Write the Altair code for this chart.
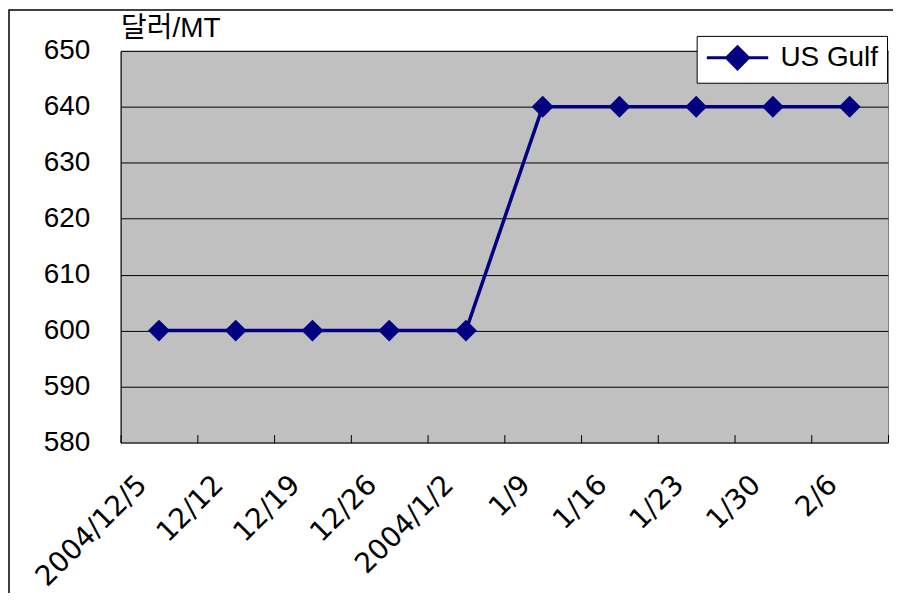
import altair as alt
import pandas as pd

dates = ["2004/12/5", "12/12", "12/19", "12/26", "2004/1/2",
         "1/9", "1/16", "1/23", "1/30", "2/6"]
us_gulf = [600, 600, 600, 600, 600, 640, 640, 640, 640, 640]
series_name = "US Gulf"
y_ticks = [580, 590, 600, 610, 620, 630, 640, 650]

FONT = "Liberation Sans, Noto Sans CJK KR"
XFONT = "DejaVu Sans"
NAVY = "#000080"

df = pd.DataFrame({"date": dates, "value": us_gulf, "series": [series_name] * len(dates)})

x_enc = alt.X(
    "date:N", sort=dates, title=None,
    scale=alt.Scale(paddingInner=0, paddingOuter=0),
    axis=alt.Axis(
        labelAngle=-45, labelAlign="right", labelBaseline="middle",
        labelOffset=-17, labelPadding=38, labelFontSize=28, labelFont=XFONT,
        labelColor="black", labelOverlap=False,
        tickBand="extent", tickSize=8, tickColor="black", tickWidth=1,
        offset=-8, domain=False, grid=False,
    ),
)
y_enc = alt.Y(
    "value:Q",
    scale=alt.Scale(domain=[580, 650], nice=False, zero=False),
    axis=alt.Axis(
        values=y_ticks, title="달러/MT", titleAngle=0, titleAlign="left",
        titleBaseline="bottom", titleX=0, titleY=-8, titleFont=FONT,
        titleFontSize=28, titleFontWeight="normal", titleColor="black",
        labelFont=FONT, labelFontSize=28, labelColor="black", labelPadding=31,
        ticks=False, grid=True, gridColor="black", gridWidth=1, gridOpacity=1,
        domain=True, domainColor="black", domainWidth=1,
    ),
)
color_enc = alt.Color(
    "series:N",
    scale=alt.Scale(domain=[series_name], range=[NAVY]),
    legend=alt.Legend(
        title=None, orient="none", legendX=578, legendY=-15,
        fillColor="white", strokeColor="black", padding=8,
        symbolType="M-2.8,0H2.8M0,-1L1,0L0,1L-1,0Z", symbolSize=484,
        symbolStrokeWidth=3, symbolOffset=19, labelOffset=29,
        labelFont=FONT, labelFontSize=28, labelColor="black",
        cornerRadius=0,
    ),
)

line = alt.Chart(df).mark_line(strokeWidth=3.5).encode(x=x_enc, y=y_enc, color=color_enc)
points = alt.Chart(df).mark_point(shape="diamond", size=484, filled=True, opacity=1).encode(
    x=x_enc, y=y_enc, color=color_enc
)

frame = alt.Chart(pd.DataFrame({"a": [0]})).mark_rect(
    filled=False, stroke="black", strokeWidth=1.5
).encode(x=alt.value(-112), x2=alt.value(1000), y=alt.value(-41), y2=alt.value(800))

chart = alt.layer(frame, line, points).properties(
    width=770, height=393,
    background="white",
    autosize=alt.AutoSizeParams(type="none"),
    padding={"left": 113, "top": 42, "right": 5, "bottom": 150},
).configure_view(
    fill="#C0C0C0", stroke="#808080", strokeWidth=1
)

chart.save("out.html", embed_options={"renderer": "svg", "actions": False})
